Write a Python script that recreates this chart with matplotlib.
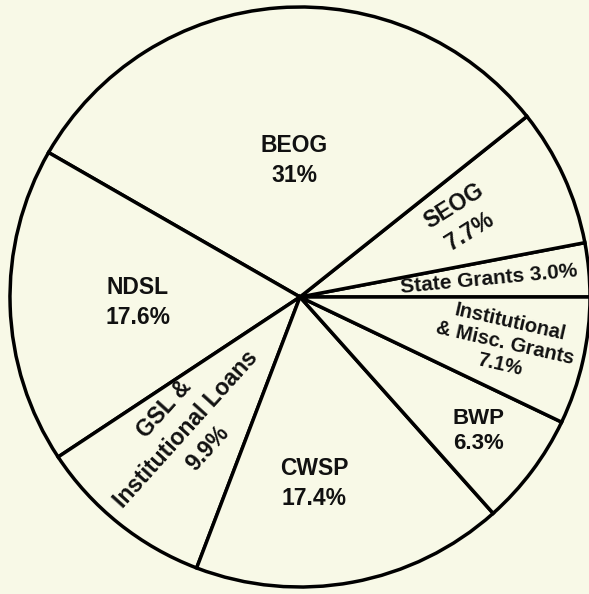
import matplotlib.pyplot as plt
import numpy as np

# Student aid distribution by program (percent of total)
programs = ["State Grants", "SEOG", "BEOG", "NDSL",
            "GSL &\nInstitutional Loans", "CWSP", "BWP",
            "Institutional\n& Misc. Grants"]
shares = [3.0, 7.7, 31.0, 17.6, 9.9, 17.4, 6.3, 7.1]
share_text = ["3.0%", "7.7%", "31%", "17.6%", "9.9%", "17.4%", "6.3%", "7.1%"]

BG = "#f8f9e7"
W, H = 589, 594
R_PX = 290.0
CX, CY = 300.0, 297.0  # pie centre in pixels (from top-left)

fig = plt.figure(figsize=(W / 100, H / 100), dpi=100, facecolor=BG)
ax = fig.add_axes([0, 0, 1, 1])
ax.set_facecolor(BG)
ax.axis("off")

wedges, _ = ax.pie(
    shares, startangle=0, counterclock=True, radius=1.0,
    colors=[BG] * len(shares),
    wedgeprops=dict(edgecolor="black", linewidth=2.5, joinstyle="miter"),
)
ax.set_xlim(-CX / R_PX, (W - CX) / R_PX)
ax.set_ylim(-(H - CY) / R_PX, CY / R_PX)
ax.set_aspect("auto")

# label layout: (radius fraction, angle offset, rotation or "mid", single line, size, spacing)
layout = {
    "State Grants": (0.655, 0.0, "mid", True, 15, 1.3),
    "SEOG": (0.62, 1.0, 32, False, 16.5, 1.4),
    "BEOG": (0.47, -2.0, 0, False, 16.5, 1.4),
    "NDSL": (0.56, 0.0, 0, False, 16.5, 1.4),
    "GSL &\nInstitutional Loans": (0.60, -2.0, 48, False, 16.5, 1.35),
    "CWSP": (0.645, -6.0, 0, False, 16.5, 1.4),
    "BWP": (0.77, 0.0, 0, False, 16, 1.3),
    "Institutional\n& Misc. Grants": (0.725, 0.0, "mid", False, 14.5, 1.2),
}

for w, name, pct in zip(wedges, programs, share_text):
    rfrac, dang, rot, single, size, spacing = layout[name]
    mid_deg = (w.theta1 + w.theta2) / 2
    if rot == "mid":
        rot = mid_deg
    mid = np.deg2rad(mid_deg + dang)
    x, y = rfrac * np.cos(mid), rfrac * np.sin(mid)
    label = f"{name} {pct}" if single else f"{name}\n{pct}"
    ax.text(x, y, label, ha="center", va="center", rotation=rot,
            rotation_mode="anchor", multialignment="center",
            linespacing=spacing, fontsize=size, fontweight="bold",
            family=["Liberation Sans", "DejaVu Sans"], color="#111111")

fig.savefig("out.png", dpi=100, facecolor=BG)
